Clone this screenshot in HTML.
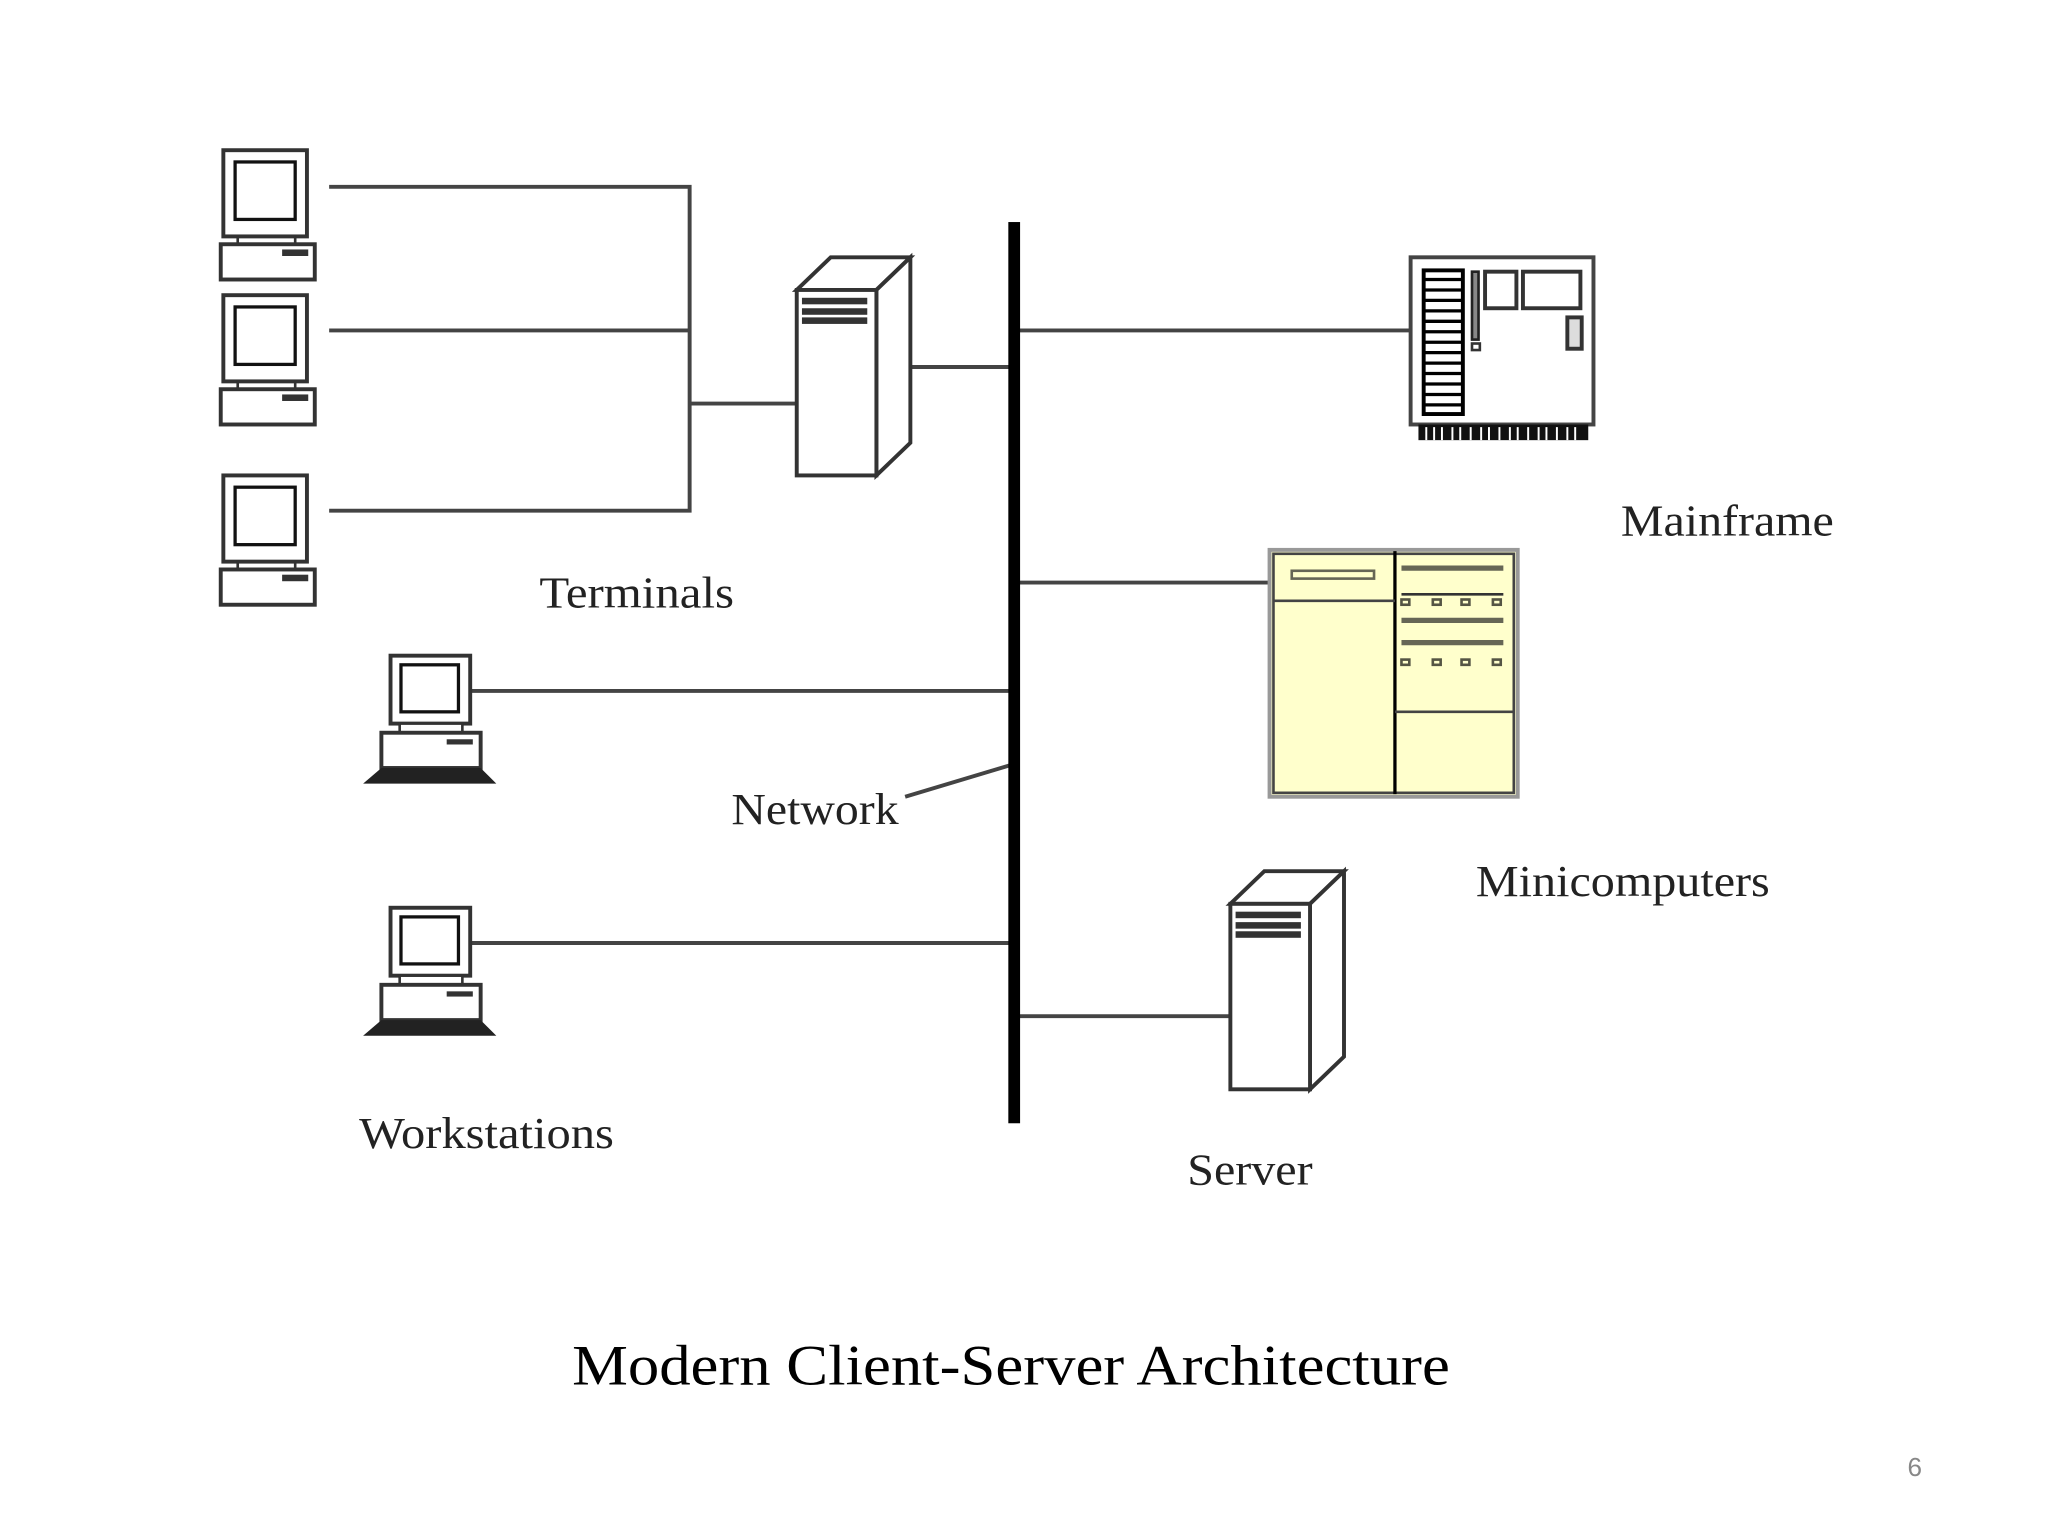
<!DOCTYPE html>
<html><head><meta charset="utf-8"><style>html,body{margin:0;padding:0;background:#fff}svg{display:block}</style></head><body>
<svg width="2048" height="1536" viewBox="0 0 1568 1176" xmlns="http://www.w3.org/2000/svg">
<defs>
<g id="term">
<rect x="171" y="115" width="64" height="66" fill="#fff" stroke="#333" stroke-width="3"/>
<rect x="180" y="124" width="46" height="44" fill="#fff" stroke="#111" stroke-width="2.5"/>
<line x1="182" y1="181" x2="182" y2="187" stroke="#333" stroke-width="2"/>
<line x1="226" y1="181" x2="226" y2="187" stroke="#333" stroke-width="2"/>
<rect x="169" y="187" width="72" height="27" fill="#fff" stroke="#333" stroke-width="3"/>
<rect x="216" y="191" width="20" height="5" fill="#333"/>
</g>
<g id="ws">
<rect x="299" y="502" width="61" height="52" fill="#fff" stroke="#333" stroke-width="3"/>
<rect x="307" y="509" width="44" height="36" fill="#fff" stroke="#111" stroke-width="2.5"/>
<rect x="306" y="554" width="48" height="7" fill="#fff" stroke="#333" stroke-width="2"/>
<rect x="292" y="561" width="76" height="27" fill="#fff" stroke="#333" stroke-width="3"/>
<rect x="342" y="566" width="20" height="4" fill="#333"/>
<polygon points="292,588 368,588 380,600 278,600" fill="#222"/>
</g>
<g id="srv">
<polygon points="0,25 26,0 87,0 61,25" fill="#fff" stroke="#333" stroke-width="3"/>
<polygon points="61,25 87,0 87,142 61,167" fill="#fff" stroke="#333" stroke-width="3"/>
<rect x="0" y="25" width="61" height="142" fill="#fff" stroke="#333" stroke-width="3"/>
<rect x="4" y="31" width="50" height="5" fill="#333"/>
<rect x="4" y="39" width="50" height="5" fill="#333"/>
<rect x="4" y="46" width="50" height="5" fill="#333"/>
</g>
</defs>
<g stroke="#444" stroke-width="3" fill="none">
<path d="M252 143H528V391H252M252 253H528M528 309H610"/>
<path d="M697 281H775M780 253H1080M780 446H972M360 529H775M360 722H775M780 778H942"/>
<path d="M693 610L773 586"/>
</g>
<rect x="772" y="170" width="9" height="690" fill="#000"/>
<use href="#term"/>
<use href="#term" transform="translate(0,111)"/>
<use href="#term" transform="translate(0,249)"/>
<use href="#ws"/>
<use href="#ws" transform="translate(0,193)"/>
<use href="#srv" transform="translate(610,197)"/>
<use href="#srv" transform="translate(942,667)"/>
<rect x="1080" y="197" width="140" height="128" fill="#fff" stroke="#444" stroke-width="3"/>
<rect x="1090" y="207" width="30" height="110" fill="#fff" stroke="#000" stroke-width="3"/>
<g stroke="#000" stroke-width="2.5"><path d="M1090 214H1120M1090 222H1120M1090 230H1120M1090 238H1120M1090 246H1120M1090 254H1120M1090 262H1120M1090 270H1120M1090 278H1120M1090 286H1120M1090 294H1120M1090 302H1120M1090 310H1120"/></g>
<rect x="1127" y="208" width="5" height="52" fill="#888" stroke="#222" stroke-width="2"/>
<rect x="1137" y="208" width="24" height="28" fill="#fff" stroke="#333" stroke-width="3"/>
<rect x="1166" y="208" width="44" height="28" fill="#fff" stroke="#333" stroke-width="3"/>
<rect x="1200" y="243" width="11" height="24" fill="#ddd" stroke="#333" stroke-width="3"/>
<rect x="1127" y="263" width="6" height="5" fill="#fff" stroke="#333" stroke-width="2"/>
<rect x="1086" y="325" width="130" height="12" fill="#111"/>
<g stroke="#fff" stroke-width="1.5"><path d="M1092 327V337M1098 327V337M1104 327V337M1112 327V337M1118 327V337M1126 327V337M1134 327V337M1140 327V337M1148 327V337M1156 327V337M1162 327V337M1170 327V337M1178 327V337M1184 327V337M1192 327V337M1200 327V337M1206 327V337"/></g>
<rect x="972" y="421" width="190" height="189" fill="#ffffcc" stroke="#999" stroke-width="3"/>
<rect x="975" y="424" width="184" height="183" fill="none" stroke="#444" stroke-width="2"/>
<line x1="1068" y1="422" x2="1068" y2="608" stroke="#000" stroke-width="2.5"/>
<line x1="975" y1="460" x2="1068" y2="460" stroke="#444" stroke-width="2"/>
<line x1="1068" y1="545" x2="1159" y2="545" stroke="#444" stroke-width="2"/>
<rect x="989" y="437" width="63" height="6" fill="none" stroke="#665" stroke-width="2"/>
<g stroke="#665" stroke-width="4"><path d="M1073 435H1151M1073 475H1151M1073 492H1151"/></g>
<line x1="1073" y1="455" x2="1151" y2="455" stroke="#333" stroke-width="2"/>
<g fill="none" stroke="#554" stroke-width="2"><rect x="1073" y="459" width="6" height="4"/><rect x="1097" y="459" width="6" height="4"/><rect x="1119" y="459" width="6" height="4"/><rect x="1143" y="459" width="6" height="4"/><rect x="1073" y="505" width="6" height="4"/><rect x="1097" y="505" width="6" height="4"/><rect x="1119" y="505" width="6" height="4"/><rect x="1143" y="505" width="6" height="4"/></g>
<g font-family="'Liberation Serif',serif" font-size="34" fill="#222" lengthAdjust="spacingAndGlyphs">
<text x="413" y="465" textLength="149" lengthAdjust="spacingAndGlyphs">Terminals</text>
<text x="1241" y="410" textLength="163" lengthAdjust="spacingAndGlyphs">Mainframe</text>
<text x="560" y="631" textLength="128" lengthAdjust="spacingAndGlyphs">Network</text>
<text x="1130" y="686" textLength="225" lengthAdjust="spacingAndGlyphs">Minicomputers</text>
<text x="275" y="879" textLength="195" lengthAdjust="spacingAndGlyphs">Workstations</text>
<text x="909" y="907" textLength="96" lengthAdjust="spacingAndGlyphs">Server</text>
</g>
<text x="438" y="1060" textLength="672" lengthAdjust="spacingAndGlyphs" font-family="'Liberation Serif',serif" font-size="44" fill="#000">Modern Client-Server Architecture</text>
<text x="1466" y="1130" text-anchor="middle" font-family="'Liberation Sans',sans-serif" font-size="20" fill="#888">6</text>
</svg>
</body></html>
